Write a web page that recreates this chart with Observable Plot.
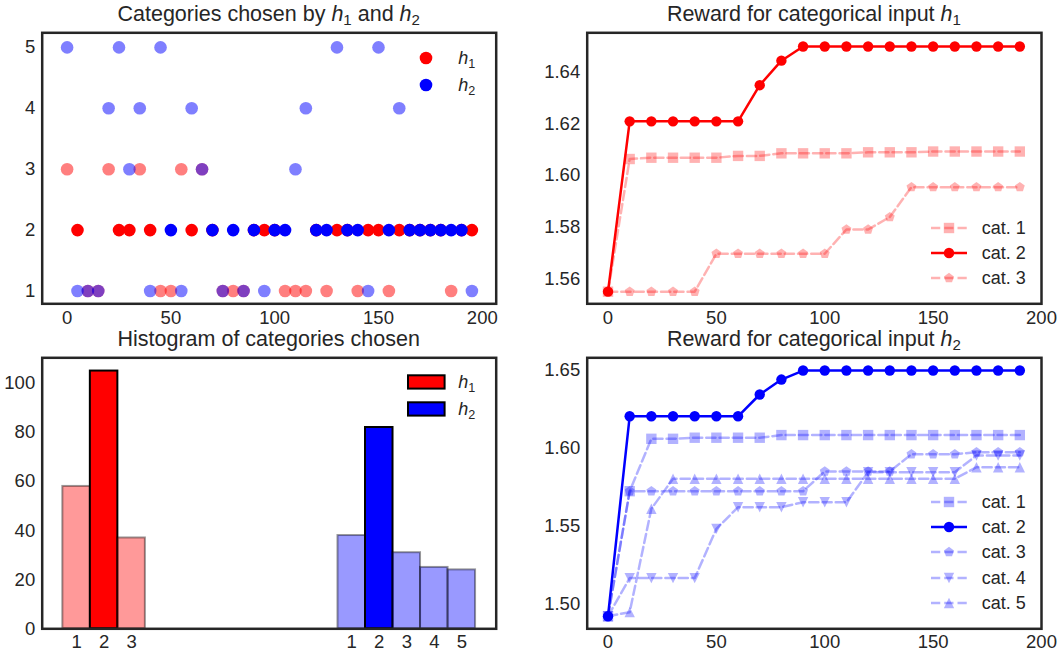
<!DOCTYPE html>
<html>
<head>
<meta charset="utf-8">
<script src="https://cdn.jsdelivr.net/npm/d3@7"></script>
<script src="https://cdn.jsdelivr.net/npm/@observablehq/plot@0.6"></script>
<style>
  body { margin: 0; background: #fff; }
  #root { position: relative; width: 1058px; height: 652px; font-family: "Liberation Sans", Arial, sans-serif; color: #262626; }
  .abs { position: absolute; white-space: nowrap; }
  .panel { position: absolute; }
  sub { font-size: 0.7em; vertical-align: -0.28em; line-height: 0; }
</style>
</head>
<body>
<div id="root"></div>
<script>
// ---------------- DATA ----------------
const scatterIter = [0,5,10,15,20,25,30,35,40,45,50,55,60,65,70,75,80,85,90,95,100,105,110,115,120,125,130,135,140,145,150,155,160,165,170,175,180,185,190,195];
const h1Chosen = [3,2,1,1,3,2,2,3,2,1,1,3,2,3,2,1,1,1,2,2,2,1,1,1,2,1,2,2,1,2,2,1,2,2,2,2,2,1,2,2];
const h2Chosen = [5,1,1,1,4,5,3,4,1,5,2,1,4,3,2,1,2,1,2,1,2,2,3,4,2,2,5,2,2,1,5,2,4,2,2,2,2,2,2,1];
const scatterXTicks = [0,50,100,150,200];
const scatterYTicks = [1,2,3,4,5];

const h1CatLabels = ["1","2","3"];
const h2CatLabels = ["1","2","3","4","5"];
const h1Counts = [58,105,37];
const h2Counts = [38,82,31,25,24];
const histYTicks = [0,20,40,60,80,100];

const rewardIter = [0,10,20,30,40,50,60,70,80,90,100,110,120,130,140,150,160,170,180,190];
const h1RewardCat1 = [1.555,1.6064,1.6069,1.6069,1.6069,1.6069,1.6076,1.6076,1.6086,1.6086,1.6086,1.6086,1.6090,1.6090,1.6090,1.6093,1.6093,1.6093,1.6093,1.6093];
const h1RewardCat2 = [1.555,1.621,1.621,1.621,1.621,1.621,1.621,1.635,1.6445,1.650,1.650,1.650,1.650,1.650,1.650,1.650,1.650,1.650,1.650,1.650];
const h1RewardCat3 = [1.555,1.555,1.555,1.555,1.555,1.5697,1.5697,1.5697,1.5697,1.5697,1.5697,1.5791,1.5791,1.5839,1.5955,1.5955,1.5955,1.5955,1.5955,1.5955];
const h2RewardCat1 = [1.492,1.5724,1.6061,1.6061,1.6068,1.6068,1.6068,1.6068,1.6085,1.6085,1.6085,1.6085,1.6085,1.6085,1.6085,1.6085,1.6085,1.6085,1.6085,1.6085];
const h2RewardCat2 = [1.492,1.6206,1.6206,1.6206,1.6206,1.6206,1.6206,1.6346,1.6442,1.650,1.650,1.650,1.650,1.650,1.650,1.650,1.650,1.650,1.650,1.650];
const h2RewardCat3 = [1.492,1.5724,1.5724,1.5724,1.5724,1.5724,1.5724,1.5724,1.5724,1.5724,1.5851,1.5851,1.5851,1.5851,1.5962,1.5962,1.5962,1.5975,1.5975,1.5975];
const h2RewardCat4 = [1.492,1.5165,1.5165,1.5165,1.5165,1.5482,1.5621,1.5621,1.5621,1.5653,1.5653,1.5653,1.5846,1.5846,1.5846,1.5846,1.5846,1.5954,1.5954,1.5954];
const h2RewardCat5 = [1.492,1.4946,1.5611,1.5804,1.5804,1.5804,1.5804,1.5804,1.5804,1.5804,1.5804,1.5804,1.5804,1.5804,1.5804,1.5804,1.5804,1.5878,1.5878,1.5878];
const rewardXTicks = [0,50,100,150,200];
const h1RewardYTicks = [1.56,1.58,1.60,1.62,1.64];
const h2RewardYTicks = [1.50,1.55,1.60,1.65];
const catNames = ["cat. 1","cat. 2","cat. 3","cat. 4","cat. 5"];

// ---------------- STYLE ----------------
const FONT = '"Liberation Sans", Arial, sans-serif';
const INK = "#262626";
const RED = "#ff0000", BLUE = "#0000ff";
const DASH = "9.25,4";
const TICK_FS = 18.5, LEG_FS = 18, TITLE_FS = 21.5;

// custom matplotlib-like marker symbols (size = pi r^2)
const rad = s => Math.sqrt(s / Math.PI);
const symSquare = {draw(c, s) { const r = rad(s); c.moveTo(-r, -r); c.lineTo(r, -r); c.lineTo(r, r); c.lineTo(-r, r); c.closePath(); }};
const symPentagon = {draw(c, s) { const r = rad(s); for (let i = 0; i < 5; i++) { const a = -Math.PI / 2 + i * 2 * Math.PI / 5; const px = r * Math.cos(a), py = r * Math.sin(a); if (i) c.lineTo(px, py); else c.moveTo(px, py); } c.closePath(); }};
const symTriUp = {draw(c, s) { const r = rad(s); c.moveTo(0, -r); c.lineTo(r, r); c.lineTo(-r, r); c.closePath(); }};
const symTriDown = {draw(c, s) { const r = rad(s); c.moveTo(0, r); c.lineTo(r, -r); c.lineTo(-r, -r); c.closePath(); }};
const symCircle = d3.symbolCircle;
const catSymbols = [symSquare, symCircle, symPentagon, symTriDown, symTriUp];

const root = document.getElementById("root");

function place(node, left, top) {
  node.classList.add("panel");
  node.style.left = left + "px";
  node.style.top = top + "px";
  root.appendChild(node);
}
function addText(html, x, yc, size, anchor = "start") {
  const d = document.createElement("div");
  d.className = "abs";
  d.innerHTML = html;
  d.style.fontSize = size + "px";
  d.style.lineHeight = size + "px";
  d.style.top = (yc - size * 0.5) + "px";
  d.style.left = x + "px";
  if (anchor === "middle") d.style.transform = "translateX(-50%)";
  root.appendChild(d);
}
function baseStyle() {
  return {fontFamily: FONT, fontSize: TICK_FS + "px", color: INK, background: "none", overflow: "visible"};
}
function frameMark() { return Plot.frame({stroke: INK, strokeWidth: 2.5}); }

// ---------------- PANEL 1: scatter ----------------
const scatterH1 = scatterIter.map((x, i) => ({x, cat: h1Chosen[i]}));
const scatterH2 = scatterIter.map((x, i) => ({x, cat: h2Chosen[i]}));
const p1 = Plot.plot({
  width: 529, height: 330,
  marginLeft: 41.7, marginRight: 33.3, marginTop: 32.3, marginBottom: 26.7,
  x: {domain: [-12, 206.7], label: null},
  y: {domain: [0.79, 5.24], label: null},
  style: baseStyle(),
  marks: [
    Plot.axisX({ticks: scatterXTicks, tickSize: 0, tickPadding: 7.5, fontSize: TICK_FS, tickFormat: d3.format("d"), label: null}),
    Plot.axisY({ticks: scatterYTicks, tickSize: 0, tickPadding: 7, fontSize: TICK_FS, tickFormat: d3.format("d"), label: null}),
    Plot.dot(scatterH1, {x: "x", y: "cat", r: 6.3, fill: RED, fillOpacity: d => d.cat === 2 ? 1 : 0.5, stroke: "none"}),
    Plot.dot(scatterH2, {x: "x", y: "cat", r: 6.3, fill: BLUE, fillOpacity: d => d.cat === 2 ? 1 : 0.5, stroke: "none"}),
    frameMark()
  ]
});
place(p1, 0, 0);

// ---------------- PANEL 2: histogram ----------------
const h1Offset = 1, h2Offset = 11;
const histData = [
  ...h1CatLabels.map((lab, i) => ({pos: i + h1Offset, lab, count: h1Counts[i], color: RED, chosen: i === 1})),
  ...h2CatLabels.map((lab, i) => ({pos: i + h2Offset, lab, count: h2Counts[i], color: BLUE, chosen: i === 1}))
];
const p2 = Plot.plot({
  width: 529, height: 322,
  marginLeft: 41.7, marginRight: 33.3, marginTop: 27.3, marginBottom: 23.7,
  x: {domain: [-0.25, 16.25], label: null},
  y: {domain: [0, 110.4], label: null},
  style: baseStyle(),
  marks: [
    Plot.axisX({ticks: histData.map(d => d.pos), tickFormat: p => histData.find(d => d.pos === p).lab, tickSize: 0, tickPadding: 6, fontSize: TICK_FS, label: null}),
    Plot.axisY({ticks: histYTicks, tickSize: 0, tickPadding: 7, fontSize: TICK_FS, label: null}),
    Plot.rectY(histData, {x1: d => d.pos - 0.5, x2: d => d.pos + 0.5, y1: 0, y2: "count",
      fill: d => d.color, fillOpacity: d => d.chosen ? 1 : 0.4,
      stroke: "#000", strokeOpacity: d => d.chosen ? 1 : 0.4, strokeWidth: 2}),
    frameMark()
  ]
});
place(p2, 0, 330);

// ---------------- PANELS 3/4: reward lines ----------------
function rewardPanel(seriesValues, color, yDomain, yTicks, top) {
  const isTop = top === 0;
  const marks = [
    Plot.axisX({ticks: rewardXTicks, tickSize: 0, tickPadding: isTop ? 7.5 : 6, fontSize: TICK_FS, label: null}),
    Plot.axisY({ticks: yTicks, tickSize: 0, tickPadding: 7, fontSize: TICK_FS, tickFormat: d3.format(".2f"), label: null})
  ];
  seriesValues.forEach((vals, k) => {
    const data = rewardIter.map((x, i) => ({x, y: vals[i]}));
    const chosen = k === 1;
    const op = chosen ? 1 : 0.3;
    marks.push(Plot.line(data, {x: "x", y: "y", stroke: color, strokeOpacity: op, strokeWidth: 2.5,
      strokeDasharray: chosen ? null : DASH, strokeLinejoin: "round"}));
    marks.push(Plot.dot(data, {x: "x", y: "y", symbol: catSymbols[k], r: 5.2, fill: color, fillOpacity: op, stroke: "none"}));
  });
  marks.push(frameMark());
  const p = Plot.plot({
    width: 529, height: isTop ? 330 : 322,
    marginLeft: 57.7, marginRight: 17,
    marginTop: isTop ? 32.3 : 27.3, marginBottom: isTop ? 26.7 : 23.7,
    x: {domain: [-9.6, 200], label: null},
    y: {domain: yDomain, label: null},
    style: baseStyle(),
    marks
  });
  place(p, 529, top);
}
rewardPanel([h1RewardCat1, h1RewardCat2, h1RewardCat3], RED, [1.5503, 1.6553], h1RewardYTicks, 0);
rewardPanel([h2RewardCat1, h2RewardCat2, h2RewardCat3, h2RewardCat4, h2RewardCat5], BLUE, [1.4839, 1.6582], h2RewardYTicks, 330);

// ---------------- TITLES ----------------
addText('Categories chosen by <i>h</i><sub>1</sub> and <i>h</i><sub>2</sub>', 268.7, 15, TITLE_FS, "middle");
addText('Reward for categorical input <i>h</i><sub>1</sub>', 813.9, 15, TITLE_FS, "middle");
addText('Histogram of categories chosen', 268.7, 340, TITLE_FS, "middle");
addText('Reward for categorical input <i>h</i><sub>2</sub>', 813.9, 340, TITLE_FS, "middle");

// ---------------- LEGENDS ----------------
function swatch(draw, cx, cy) {
  const svg = d3.create("svg").attr("width", 40).attr("height", 24).style("overflow", "visible")
    .style("position", "absolute").style("left", (cx - 20) + "px").style("top", (cy - 12) + "px");
  draw(svg);
  root.appendChild(svg.node());
}
// scatter legend
[["<i>h</i><sub>1</sub>", RED], ["<i>h</i><sub>2</sub>", BLUE]].forEach(([lab, col], i) => {
  const cy = 58.3 + i * 26.7;
  swatch(s => s.append("path").attr("transform", "translate(20,12)").attr("d", d3.symbol(symCircle, Math.PI * 6.3 * 6.3)()).attr("fill", col), 426, cy);
  addText(lab, 458.3, cy, LEG_FS);
});
// histogram legend
[["<i>h</i><sub>1</sub>", RED], ["<i>h</i><sub>2</sub>", BLUE]].forEach(([lab, col], i) => {
  const cy = 381.7 + i * 27.3;
  swatch(s => s.append("rect").attr("x", 2).attr("y", 5.3).attr("width", 36.6).attr("height", 13.3)
    .attr("fill", col).attr("stroke", "#000").attr("stroke-width", 2), 426, cy);
  addText(lab, 458.3, cy, LEG_FS);
});
// reward legends
function rewardLegend(n, color, y0) {
  for (let k = 0; k < n; k++) {
    const cy = y0 + k * 25.3;
    const chosen = k === 1, op = chosen ? 1 : 0.3;
    swatch(s => {
      s.append("line").attr("x1", 2).attr("x2", 38).attr("y1", 12).attr("y2", 12)
        .attr("stroke", color).attr("stroke-opacity", op).attr("stroke-width", 2.5)
        .attr("stroke-dasharray", chosen ? null : DASH);
      s.append("path").attr("transform", "translate(20,12)").attr("d", d3.symbol(catSymbols[k], Math.PI * 5.2 * 5.2)())
        .attr("fill", color).attr("fill-opacity", op);
    }, 949, cy);
    addText(catNames[k], 981.7, cy, LEG_FS);
  }
}
rewardLegend(3, RED, 227.5);
rewardLegend(5, BLUE, 501.7);
</script>
</body>
</html>
